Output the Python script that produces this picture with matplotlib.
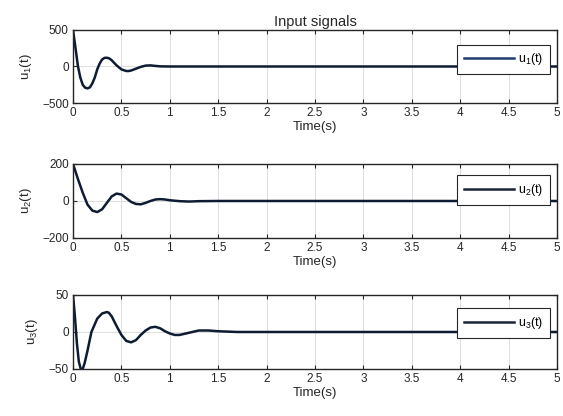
import matplotlib
matplotlib.use("Agg")
import matplotlib.pyplot as plt

plt.rcParams['font.family'] = ['Liberation Sans', 'DejaVu Sans']
plt.rcParams['mathtext.fontset'] = 'custom'
plt.rcParams['mathtext.rm'] = 'Liberation Sans'
plt.rcParams['mathtext.it'] = 'Liberation Sans'

t1 = [0, 0.025, 0.05, 0.075, 0.1, 0.125, 0.15, 0.175, 0.2, 0.225, 0.25, 0.275, 0.3, 0.325,
      0.35, 0.375, 0.4, 0.425, 0.45, 0.5, 0.55, 0.575, 0.6, 0.65, 0.7, 0.75, 0.8, 0.85, 0.9, 1.0, 5.0]
u1 = [500, 260, 10, -150, -250, -290, -300, -285, -230, -150, -40, 40, 95, 118,
      120, 110, 85, 50, 15, -40, -62, -62, -55, -30, -5, 12, 15, 8, 2, 0, 0]

t2 = [0, 0.05, 0.1, 0.15, 0.2, 0.25, 0.3, 0.35, 0.4, 0.45, 0.5, 0.55, 0.6, 0.65, 0.7,
      0.75, 0.8, 0.85, 0.9, 0.95, 1.0, 1.1, 1.2, 1.3, 1.5, 5.0]
u2 = [200, 120, 45, -20, -52, -60, -45, -10, 25, 40, 35, 15, -5, -16, -18,
      -10, 0, 8, 10, 8, 4, -1, -3, -1, 0, 0]

t3 = [0, 0.02, 0.04, 0.06, 0.08, 0.09, 0.1, 0.12, 0.15, 0.19, 0.25, 0.3, 0.35, 0.37, 0.4,
      0.45, 0.5, 0.55, 0.6, 0.65, 0.7, 0.75, 0.8, 0.85, 0.9, 0.95, 1.0, 1.05, 1.1, 1.2,
      1.3, 1.4, 1.5, 1.7, 5.0]
u3 = [50, 20, -15, -40, -50, -51, -50, -42, -25, 0, 18, 25, 27, 26, 21,
      8, -4, -12, -14, -11, -4, 2, 6, 7, 5, 1, -2, -4, -4, -1,
      2, 2, 1, 0, 0]

series = [(t1, u1, r'u$_1$(t)', (-500, 500), [-500, 0, 500], 0.80, '#1f3f6e'),
          (t2, u2, r'u$_2$(t)', (-200, 200), [-200, 0, 200], 0.85, '#1a2438'),
          (t3, u3, r'u$_3$(t)', (-50, 50), [-50, 0, 50], 0.82, '#1a2438')]

xticks = [0, 0.5, 1, 1.5, 2, 2.5, 3, 3.5, 4, 4.5, 5]
xticklabels = ['0', '0.5', '1', '1.5', '2', '2.5', '3', '3.5', '4', '4.5', '5']

fig = plt.figure(figsize=(5.63, 4.16), dpi=100)
positions = [[0.1297, 0.7524, 0.8597, 0.1755],
             [0.1297, 0.4279, 0.8597, 0.1779],
             [0.1297, 0.1130, 0.8597, 0.1779]]

for i, (pos, (t, u, lab, ylim, yt, ly, lc)) in enumerate(zip(positions, series)):
    ax = fig.add_axes(pos)
    ax.plot(t, u, color='#0d1b33', lw=1.8, label=lab)
    ax.set_xlim(0, 5)
    ax.set_ylim(*ylim)
    ax.set_xticks(xticks)
    ax.set_xticklabels(xticklabels)
    ax.set_yticks(yt)
    ax.grid(True, color='#d9d9d9', lw=0.6)
    ax.set_axisbelow(True)
    ax.tick_params(direction='in', top=True, right=True, labelsize=8.5, length=3, pad=3,
                   color='#262626', labelcolor='#262626')
    for s in ax.spines.values():
        s.set_color('#262626')
        s.set_linewidth(1.0)
    ax.set_xlabel('Time(s)', fontsize=9.5, labelpad=1, color='#262626')
    ax.set_ylabel(lab, fontsize=9.5, labelpad=6, color='#262626')
    leg = ax.legend(loc='upper right', bbox_to_anchor=(0.986, ly), fontsize=9,
                    handlelength=4, fancybox=False, edgecolor='#262626', framealpha=1,
                    borderpad=0.55, handletextpad=0.3, borderaxespad=0)
    leg.get_frame().set_linewidth(0.8)
    for lh in leg.get_lines():
        lh.set_color(lc)
    if i == 0:
        ax.set_title('Input signals', fontsize=10.5, pad=3, color='#262626')

fig.savefig('out.png', dpi=100)
